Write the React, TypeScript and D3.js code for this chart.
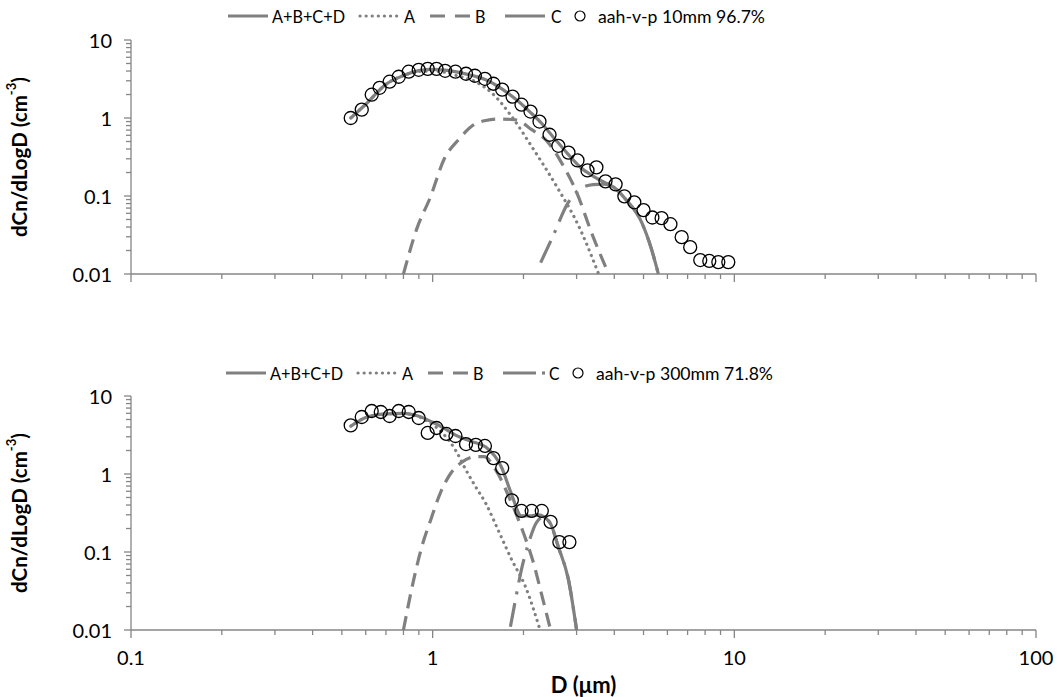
import React from 'react';
import * as d3 from 'd3';

// ---------- data ----------
const xTickValues = [0.1, 1, 10, 100];
const xTickLabels = ['0.1', '1', '10', '100'];
const yTickValues = [0.01, 0.1, 1, 10];
const yTickLabels = ['0.01', '0.1', '1', '10'];
const legendLabels = ['A+B+C+D', 'A', 'B', 'C'];
const topName = 'aah-v-p 10mm 96.7%';
const botName = 'aah-v-p 300mm 71.8%';
const xTitle = 'D (μm)';

// top panel measured points
const topD = [0.535, 0.582, 0.628, 0.667, 0.72, 0.772, 0.833, 0.899, 0.963, 1.03, 1.10, 1.19, 1.29, 1.38, 1.49, 1.59, 1.70, 1.84, 1.97, 2.11, 2.26, 2.44, 2.61, 2.82, 3.02, 3.26, 3.49, 3.74, 4.04, 4.32, 4.66, 5.0, 5.35, 5.74, 6.14, 6.69, 7.14, 7.71, 8.26, 8.85, 9.55];
const topN = [1.0, 1.28, 1.99, 2.44, 2.92, 3.38, 3.92, 4.15, 4.27, 4.27, 4.03, 3.92, 3.69, 3.48, 3.18, 2.75, 2.31, 1.88, 1.48, 1.21, 0.90, 0.61, 0.44, 0.36, 0.286, 0.213, 0.233, 0.154, 0.141, 0.099, 0.083, 0.066, 0.053, 0.052, 0.0435, 0.0297, 0.0221, 0.0151, 0.0147, 0.0142, 0.0142];

// top panel fitted curves
const topTotD = [0.535, 0.6, 0.7, 0.8, 0.9, 1.0, 1.1, 1.2, 1.35, 1.5, 1.7, 1.9, 2.1, 2.3, 2.5, 2.8, 3.1, 3.4, 3.7, 4.0, 4.36, 4.93, 5.31, 5.6];
const topTotN = [1.0, 1.5, 2.7, 3.5, 4.05, 4.2, 4.1, 3.9, 3.5, 3.1, 2.35, 1.7, 1.2, 0.85, 0.58, 0.35, 0.23, 0.18, 0.15, 0.128, 0.091, 0.046, 0.021, 0.01];
const topAD = [0.535, 0.6, 0.7, 0.8, 0.9, 1.0, 1.1, 1.2, 1.39, 1.57, 1.83, 2.13, 2.61, 3.05, 3.55];
const topAN = [1.0, 1.5, 2.7, 3.5, 3.95, 4.0, 3.85, 3.5, 2.9, 2.1, 1.04, 0.43, 0.122, 0.041, 0.01];
const topBD = [0.80, 0.885, 0.985, 1.09, 1.22, 1.37, 1.5, 1.65, 1.88, 2.13, 2.42, 2.67, 3.0, 3.36, 3.83];
const topBN = [0.01, 0.0376, 0.099, 0.294, 0.53, 0.82, 0.93, 0.97, 0.95, 0.71, 0.48, 0.27, 0.112, 0.034, 0.01];
const topCD = [2.28, 2.5, 2.8, 3.1, 3.4, 3.7, 4.0, 4.36, 4.93, 5.31, 5.6];
const topCN = [0.014, 0.03, 0.08, 0.125, 0.14, 0.142, 0.128, 0.091, 0.046, 0.021, 0.01];

// bottom panel measured points
const botD = [0.535, 0.582, 0.628, 0.673, 0.72, 0.772, 0.833, 0.899, 0.963, 1.03, 1.11, 1.19, 1.29, 1.39, 1.49, 1.59, 1.70, 1.83, 1.97, 2.13, 2.30, 2.46, 2.63, 2.84];
const botN = [4.2, 5.38, 6.42, 6.24, 5.54, 6.42, 6.24, 5.22, 3.36, 3.89, 3.26, 3.07, 2.42, 2.36, 2.29, 1.60, 1.19, 0.46, 0.336, 0.336, 0.336, 0.243, 0.134, 0.134];

// bottom panel fitted curves
const botTotD = [0.535, 0.6, 0.7, 0.8, 0.9, 1.0, 1.1, 1.2, 1.35, 1.5, 1.69, 1.82, 1.97, 2.1, 2.24, 2.45, 2.61, 2.82, 3.0];
const botTotN = [4.1, 5.3, 5.9, 6.0, 5.5, 4.6, 3.8, 3.1, 2.6, 2.22, 1.23, 0.57, 0.29, 0.29, 0.3, 0.236, 0.116, 0.044, 0.01];
const botAD = [0.535, 0.6, 0.7, 0.8, 0.9, 1.0, 1.07, 1.19, 1.29, 1.39, 1.50, 1.65, 1.83, 2.03, 2.27];
const botAN = [4.1, 5.3, 5.9, 5.95, 5.4, 4.3, 3.45, 2.03, 1.12, 0.68, 0.42, 0.19, 0.079, 0.036, 0.01];
const botBD = [0.80, 0.865, 0.92, 0.985, 1.06, 1.15, 1.25, 1.39, 1.48, 1.62, 1.81, 2.0, 2.16, 2.29, 2.46];
const botBN = [0.01, 0.044, 0.116, 0.257, 0.57, 1.03, 1.42, 1.67, 1.67, 1.12, 0.46, 0.175, 0.072, 0.030, 0.01];
const botCD = [1.81, 1.88, 1.97, 2.08, 2.21, 2.33, 2.45, 2.61, 2.82, 3.0];
const botCN = [0.011, 0.024, 0.06, 0.13, 0.24, 0.28, 0.236, 0.116, 0.044, 0.01];

// ---------- layout ----------
const W = 1062;
const H = 697;
const X0 = 131;
const X1 = 1036;
const GRAY = '#808080';
const AXIS = '#868686';
const FONT = 'Lato, "Open Sans", sans-serif';

const dashes = ['none', '0.1 6', '14 8', '24 9 3 9'];
const caps: ('butt' | 'round')[] = ['butt', 'round', 'butt', 'butt'];

const zip = (d: number[], n: number[]) => d.map((v, i) => [v, n[i]] as [number, number]);

const panels = [
  {
    yTop: 40, yBot: 274, legendY: 16, legendShift: 0, name: topName, nameW: 167, cDot: false,
    pts: zip(topD, topN),
    curves: [zip(topTotD, topTotN), zip(topAD, topAN), zip(topBD, topBN), zip(topCD, topCN)],
  },
  {
    yTop: 396, yBot: 630, legendY: 373, legendShift: -2, name: botName, nameW: 177, cDot: true,
    pts: zip(botD, botN),
    curves: [zip(botTotD, botTotN), zip(botAD, botAN), zip(botBD, botBN), zip(botCD, botCN)],
  },
];

const x = d3.scaleLog().domain([0.1, 100]).range([X0, X1]);

const minorOf = (lo: number, hi: number) => {
  const out: number[] = [];
  for (let e = lo; e < hi; e++) {
    for (let k = 2; k <= 9; k++) out.push(k * Math.pow(10, e));
  }
  return out;
};
const xMinor = minorOf(-1, 2);
const yMinor = minorOf(-2, 1);

// legend geometry: symbol span, text start, text width
const legendItems = [
  { l0: 228, l1: 268, t: 272, w: 73 },
  { l0: 360, l1: 400, t: 404, w: 11 },
  { l0: 430, l1: 470, t: 475, w: 10.5 },
  { l0: 505, l1: 545, t: 551, w: 10.5 },
];
const legendMarkerX = 580;
const legendNameX = 598;

function Panel({ p, showXLabels }: { p: typeof panels[0]; showXLabels: boolean }) {
  const y = d3.scaleLog().domain([0.01, 10]).range([p.yBot, p.yTop]);
  const line = d3
    .line<[number, number]>()
    .x((d) => x(d[0]))
    .y((d) => y(d[1]))
    .curve(d3.curveMonotoneX);
  const midY = (p.yTop + p.yBot) / 2;
  const s = p.legendShift;
  return (
    <g>
      {/* legend */}
      <g fontFamily={FONT} fontSize={17.5} fill="#000">
        {legendItems.map((it, i) => (
          <g key={i}>
            <line
              x1={it.l0 + s}
              x2={(i === 3 && p.cDot ? it.l1 - 7 : it.l1) + s}
              y1={p.legendY}
              y2={p.legendY}
              stroke={GRAY}
              strokeWidth={3.2}
              strokeDasharray={i === 3 ? 'none' : i === 2 ? '15 10' : dashes[i]}
              strokeLinecap={caps[i]}
            />
            {i === 3 && p.cDot && (
              <line x1={it.l1 + s - 1} x2={it.l1 + s + 2} y1={p.legendY} y2={p.legendY} stroke={GRAY} strokeWidth={3.2} />
            )}
            <text
              x={it.t + s}
              y={p.legendY}
              dominantBaseline="central"
              textLength={it.w}
              lengthAdjust="spacingAndGlyphs"
            >
              {legendLabels[i]}
            </text>
          </g>
        ))}
        <circle cx={legendMarkerX + s} cy={p.legendY} r={5} fill="none" stroke="#000" strokeWidth={1.2} />
        <text
          x={legendNameX + s}
          y={p.legendY}
          dominantBaseline="central"
          textLength={p.nameW}
          lengthAdjust="spacingAndGlyphs"
        >
          {p.name}
        </text>
      </g>

      {/* axes */}
      <g stroke={AXIS} strokeWidth={1.3}>
        <line x1={X0} x2={X0} y1={p.yTop} y2={p.yBot} />
        <line x1={X0} x2={X1} y1={p.yBot} y2={p.yBot} />
        {yTickValues.map((v) => (
          <line key={'ym' + v} x1={X0 - 7} x2={X0} y1={y(v)} y2={y(v)} />
        ))}
        {yMinor.map((v) => (
          <line key={'yn' + v} x1={X0 - 5} x2={X0} y1={y(v)} y2={y(v)} />
        ))}
        {xTickValues.map((v) => (
          <line key={'xm' + v} x1={x(v)} x2={x(v)} y1={p.yBot} y2={p.yBot + 8} />
        ))}
        {xMinor.map((v) => (
          <line key={'xn' + v} x1={x(v)} x2={x(v)} y1={p.yBot} y2={p.yBot + 5} />
        ))}
      </g>

      <g fontFamily={FONT} fontSize={20} fill="#000">
        {yTickValues.map((v, i) => (
          <text key={'yl' + v} x={112} y={y(v)} textAnchor="end" dominantBaseline="central">
            {yTickLabels[i]}
          </text>
        ))}
        {showXLabels &&
          xTickValues.map((v, i) => (
            <text key={'xl' + v} x={x(v)} y={p.yBot + 27} textAnchor="middle" dominantBaseline="central">
              {xTickLabels[i]}
            </text>
          ))}
      </g>

      <text
        transform={`translate(19,${midY}) rotate(-90)`}
        textAnchor="middle"
        dominantBaseline="central"
        fontFamily={FONT}
        fontSize={20.5}
        fontWeight="bold"
      >
        dCn/dLogD (cm
        <tspan dy={-8} fontSize={13}>-3</tspan>
        <tspan dy={8}>)</tspan>
      </text>

      {/* curves */}
      {p.curves.map((c, i) => (
        <path
          key={'c' + i}
          d={line(c) || ''}
          fill="none"
          stroke={GRAY}
          strokeWidth={3.2}
          strokeDasharray={dashes[i]}
          strokeLinecap={caps[i]}
        />
      ))}

      {/* measured points */}
      {p.pts.map((d, i) => (
        <circle key={'p' + i} cx={x(d[0])} cy={y(d[1])} r={6.5} fill="none" stroke="#000" strokeWidth={1.3} />
      ))}
    </g>
  );
}

export default function App() {
  return (
    <svg
      width={W}
      height={H}
      viewBox={`0 0 ${W} ${H}`}
      style={{ position: 'absolute', left: 0, top: 0, background: '#fff' }}
    >
      <rect width={W} height={H} fill="#fff" />
      <Panel p={panels[0]} showXLabels={false} />
      <Panel p={panels[1]} showXLabels={true} />
      <text
        x={(X0 + X1) / 2}
        y={684}
        textAnchor="middle"
        dominantBaseline="central"
        fontFamily={FONT}
        fontSize={22}
        fontWeight="bold"
      >
        {xTitle}
      </text>
    </svg>
  );
}
